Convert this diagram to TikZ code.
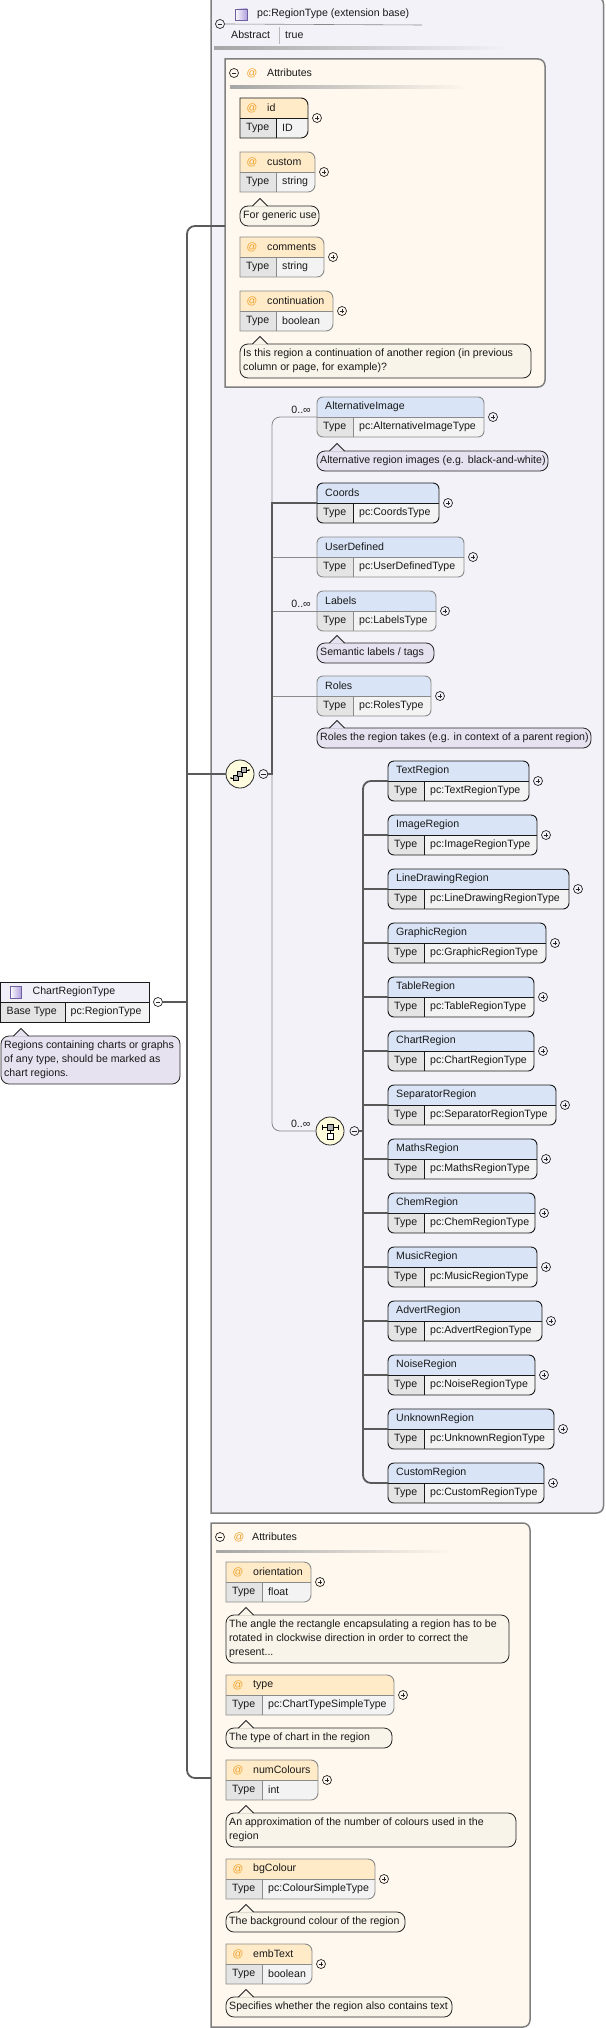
\documentclass[tikz,border=0pt]{standalone}
\usepackage{fontspec}
\setmainfont{Liberation Sans}
\usetikzlibrary{positioning,calc}

\definecolor{extbg}{RGB}{243,242,249}
\definecolor{attrbg}{RGB}{254,248,238}
\definecolor{elemhead}{RGB}{217,228,246}
\definecolor{attrhead}{RGB}{255,235,200}
\definecolor{typecell}{RGB}{228,228,228}
\definecolor{valcell}{RGB}{243,243,243}
\definecolor{elemnote}{RGB}{230,226,240}
\definecolor{attrnote}{RGB}{249,244,233}
\definecolor{crthead}{RGB}{241,240,248}
\definecolor{seqfill}{RGB}{255,252,222}
\definecolor{atorange}{RGB}{240,160,40}
\definecolor{iconpurple}{RGB}{176,160,220}
\definecolor{iconedge}{RGB}{110,95,160}
\definecolor{bordergray}{RGB}{138,138,138}
\definecolor{framegray}{RGB}{128,128,128}
\definecolor{busgray}{RGB}{90,90,90}
\definecolor{txt}{RGB}{25,25,25}

\tikzset{
  boxnode/.style={draw=none, inner sep=0pt, outer sep=0pt, minimum height=40pt, anchor=north west},
  lbl/.style={anchor=west, inner sep=0pt, text=txt},
  atsign/.style={inner sep=0pt, text=atorange},
  req/.style={draw=black!90, line width=0.9pt},
  opt/.style={draw=bordergray, line width=0.9pt},
  attrpath/.style={insert path={(#1.north west) -- ([xshift=-7pt]#1.north east)
      arc[start angle=90, end angle=0, radius=7pt] -- ([yshift=7pt]#1.south east)
      arc[start angle=0, end angle=-90, radius=7pt] -- (#1.south west) -- cycle}},
  notenode/.style={draw=black!85, line width=0.8pt, rounded corners=8pt, inner sep=0pt, outer sep=0pt, anchor=north west},
  noteline/.style={draw=black!85, line width=0.8pt},
  plusc/.style={circle, draw=black!85, line width=0.7pt, minimum size=9pt, inner sep=0pt,
      path picture={\draw[line width=0.7pt] ([xshift=-2.4pt]path picture bounding box.center) -- ([xshift=2.4pt]path picture bounding box.center)
      ([yshift=-2.4pt]path picture bounding box.center) -- ([yshift=2.4pt]path picture bounding box.center);}},
  minusc/.style={circle, draw=black!85, line width=0.7pt, minimum size=9pt, inner sep=0pt,
      path picture={\draw[line width=0.7pt] ([xshift=-2.4pt]path picture bounding box.center) -- ([xshift=2.4pt]path picture bounding box.center);}},
  busthick/.style={draw=busgray, line width=1.8pt},
  busthin/.style={draw=bordergray, line width=0.8pt},
  mult/.style={anchor=east, inner sep=0pt, text=txt},
  model/.style={circle, draw=black!85, line width=0.8pt, fill=seqfill, minimum size=28pt, inner sep=0pt},
  iconline/.style={draw=iconedge, line width=0.6pt},
}

% element box: name, x, y, width, title, type, border
\newcommand{\elembox}[7]{%
  \node[boxnode, minimum width=#4pt] (#1) at (#2,#3) {};
  \begin{scope}
    \clip[rounded corners=6pt] (#1.north west) rectangle (#1.south east);
    \fill[elemhead] (#1.north west) rectangle (#1.east);
    \fill[typecell] (#1.west) rectangle ([xshift=36pt]#1.south west);
    \fill[valcell] ([xshift=36pt]#1.west) rectangle (#1.south east);
  \end{scope}
  \draw[#7, rounded corners=6pt] (#1.north west) rectangle (#1.south east);
  \draw[#7] (#1.west) -- (#1.east) ([xshift=36pt]#1.west) -- ([xshift=36pt]#1.south west);
  \node[lbl] at ([xshift=8pt,yshift=-10pt]#1.north west) {#5};
  \node[lbl] at ([xshift=6pt,yshift=10pt]#1.south west) {Type};
  \node[lbl] at ([xshift=42pt,yshift=10pt]#1.south west) {#6};
  \node[plusc] (#1p) at ([xshift=9pt]#1.east) {};
}

% attribute box: name, x, y, width, title, type, border
\newcommand{\attrbox}[7]{%
  \node[boxnode, minimum width=#4pt] (#1) at (#2,#3) {};
  \begin{scope}
    \clip[attrpath=#1];
    \fill[attrhead] (#1.north west) rectangle (#1.east);
    \fill[typecell] (#1.west) rectangle ([xshift=36pt]#1.south west);
    \fill[valcell] ([xshift=36pt]#1.west) rectangle (#1.south east);
  \end{scope}
  \draw[#7, attrpath=#1];
  \draw[#7] (#1.west) -- (#1.east) ([xshift=36pt]#1.west) -- ([xshift=36pt]#1.south west);
  \node[atsign] at ([xshift=12pt,yshift=-10pt]#1.north west) {@};
  \node[lbl] at ([xshift=27pt,yshift=-10pt]#1.north west) {#5};
  \node[lbl] at ([xshift=6pt,yshift=10pt]#1.south west) {Type};
  \node[lbl] at ([xshift=42pt,yshift=10pt]#1.south west) {#6};
  \node[plusc] (#1p) at ([xshift=9pt]#1.east) {};
}

% note: name, x, y, width, lines, fill, text
\newcommand{\notebox}[7]{%
  \pgfmathsetmacro{\noteh}{6+14*#5}
  \node[notenode, fill=#6, minimum width=#4pt, minimum height=\noteh pt] (#1) at (#2,#3) {};
  \fill[#6] ([xshift=12.5pt,yshift=-0.7pt]#1.north west) -- ([xshift=20pt,yshift=7.5pt]#1.north west) -- ([xshift=27.5pt,yshift=-0.7pt]#1.north west) -- cycle;
  \draw[noteline] ([xshift=12.5pt]#1.north west) -- ([xshift=20pt,yshift=7.5pt]#1.north west) -- ([xshift=27.5pt]#1.north west);
  \node[lbl, align=left] at ([xshift=3pt]#1.west) {#7};
}

\begin{document}
\begin{tikzpicture}[x=1pt, y=-1pt, font=\fontsize{10.6}{14}\selectfont]
\useasboundingbox (0,0) rectangle (605,2028);

% Extension base frame
\node[boxnode, minimum width=392.5pt, minimum height=1516pt] (ext) at (211,-3) {};
\draw[framegray, line width=1.5pt, fill=extbg, attrpath=ext];
\node[minusc] (extm) at (220,24) {};
\draw[iconline, left color=white, right color=iconpurple] (235,9) rectangle (247,20);
\node[lbl] (extname) at (257,14) {pc:RegionType (extension base)};
\draw[bordergray, line width=0.6pt] (extm.east) -- (422,25);
\node[lbl] (abstr) at (231,35) {Abstract};
\draw[bordergray!60, line width=0.6pt] (279,27) -- (279,44);
\node[lbl] (abstrval) at (285,35) {true};
\shade[left color=gray!70, right color=extbg] (214,47) rectangle (510,49.5);

% Attributes of the base type
\node[boxnode, minimum width=320pt, minimum height=328pt] (attrA) at (225,59) {};
\draw[framegray, line width=1.5pt, fill=attrbg, attrpath=attrA];
\node[minusc] (attrAm) at (234,73) {};
\node[atsign] at (252,73) {@};
\node[lbl] at (267,73) {Attributes};
\shade[left color=gray!70, right color=attrbg] (230,86) rectangle (468,88.5);

\attrbox{aid}{240}{98}{68}{id}{ID}{req}
\attrbox{acustom}{240}{152}{75}{custom}{string}{opt}
\notebox{customnote}{240}{206}{79}{1}{attrnote}{For generic use}
\attrbox{acomments}{240}{237}{84}{comments}{string}{opt}
\attrbox{acont}{240}{291}{93}{continuation}{boolean}{opt}
\notebox{contnote}{240}{344}{291}{2}{attrnote}{Is this region a continuation of another region (in previous\\column or page, for example)?}

% Sequence
\elembox{altimg}{317}{397}{167}{AlternativeImage}{pc:AlternativeImageType}{opt}
\notebox{altimgnote}{317}{451}{231}{1}{elemnote}{Alternative region images (e.g. black-and-white)}
\elembox{coords}{317}{483}{122}{Coords}{pc:CoordsType}{req}
\elembox{userdef}{317}{537}{147}{UserDefined}{pc:UserDefinedType}{opt}
\elembox{labels}{317}{591}{119}{Labels}{pc:LabelsType}{opt}
\notebox{labelsnote}{317}{643}{117}{1}{elemnote}{Semantic labels / tags}
\elembox{roles}{317}{676}{114}{Roles}{pc:RolesType}{opt}
\notebox{rolesnote}{317}{728}{274}{1}{elemnote}{Roles the region takes (e.g. in context of a parent region)}

\node[mult] (altimgmult) at ([xshift=-6pt,yshift=7pt]altimg.west) {0..∞};
\node[mult] (labelsmult) at ([xshift=-6pt,yshift=7pt]labels.west) {0..∞};

\node[model] (seq) at (240,774) {};
\begin{scope}[shift={(seq.center)}]
  \draw[line width=0.6pt] (-9,4) -- (-5,4) (5,-4) -- (9,-4);
  \fill (-9,4) circle (0.9pt) (9,-4) circle (0.9pt);
  \foreach \d in {0,4,8}
    \draw[fill=gray!60, line width=0.5pt] (-7+\d,1-\d) rectangle (-2+\d,6-\d);
\end{scope}
\node[minusc] (seqm) at ([xshift=9pt]seq.east) {};

% Choice of regions
\node[model] (choice) at (330,1131) {};
\begin{scope}[shift={(choice.center)}]
  \draw[line width=0.6pt] (-8,-4) -- (8,-4) (-8,-6.5) -- (-8,-1.5) (8,-6.5) -- (8,-1.5) (0,-1) -- (0,2);
  \draw[fill=gray!60, line width=0.5pt] (-3,-7) rectangle (3,-1);
  \draw[fill=white, line width=0.5pt] (-3,2) rectangle (3,8);
\end{scope}
\node[minusc] (choicem) at ([xshift=10pt]choice.east) {};
\node[mult] (choicemult) at ([xshift=-5pt,yshift=7pt]choice.west) {0..∞};

\foreach \nm/\ttl/\bw [count=\i from 0] in {treg/TextRegion/141, imgreg/ImageRegion/149,
    linereg/LineDrawingRegion/181, graphreg/GraphicRegion/158, tablereg/TableRegion/146,
    chartreg/ChartRegion/146, sepreg/SeparatorRegion/168, mathreg/MathsRegion/149,
    chemreg/ChemRegion/147, musicreg/MusicRegion/149, advreg/AdvertRegion/154,
    noisereg/NoiseRegion/147, unkreg/UnknownRegion/166, custreg/CustomRegion/156}{
  \pgfmathsetmacro{\yy}{761+54*\i}
  \elembox{\nm}{388}{\yy}{\bw}{\ttl}{pc:\ttl Type}{req}
}

% Attributes of ChartRegionType
\node[boxnode, minimum width=319pt, minimum height=504pt] (attrB) at (211,1523) {};
\draw[framegray, line width=1.5pt, fill=attrbg, attrpath=attrB];
\node[minusc] (attrBm) at (220,1537) {};
\node[atsign] at (239,1537) {@};
\node[lbl] at (252,1537) {Attributes};
\shade[left color=gray!70, right color=attrbg] (216,1550) rectangle (452,1552.5);

\attrbox{aorient}{226}{1562}{85}{orientation}{float}{opt}
\notebox{orientnote}{226}{1615}{283}{3}{attrnote}{The angle the rectangle encapsulating a region has to be\\rotated in clockwise direction in order to correct the\\present...}
\attrbox{atype}{226}{1675}{168}{type}{pc:ChartTypeSimpleType}{opt}
\notebox{typenote}{226}{1728}{166}{1}{attrnote}{The type of chart in the region}
\attrbox{anumcol}{226}{1760}{92}{numColours}{int}{opt}
\notebox{numcolnote}{226}{1813}{290}{2}{attrnote}{An approximation of the number of colours used in the\\region}
\attrbox{abgcol}{226}{1859}{149}{bgColour}{pc:ColourSimpleType}{opt}
\notebox{bgcolnote}{226}{1912}{179}{1}{attrnote}{The background colour of the region}
\attrbox{aembtext}{226}{1944}{86}{embText}{boolean}{opt}
\notebox{embtextnote}{226}{1997}{226}{1}{attrnote}{Specifies whether the region also contains text}

% ChartRegionType
\node[boxnode, minimum width=148.5pt] (crt) at (0.5,982) {};
\fill[crthead] (crt.north west) rectangle (crt.east);
\fill[typecell] (crt.west) rectangle ([xshift=65pt]crt.south west);
\fill[valcell] ([xshift=65pt]crt.west) rectangle (crt.south east);
\draw[req] (crt.north west) rectangle (crt.south east);
\draw[req] (crt.west) -- (crt.east) ([xshift=65pt]crt.west) -- ([xshift=65pt]crt.south west);
\draw[iconline, left color=white, right color=iconpurple] (10,986) rectangle (21,998);
\node[lbl] at ([xshift=32pt,yshift=-10pt]crt.north west) {ChartRegionType};
\node[lbl] at ([xshift=6pt,yshift=10pt]crt.south west) {Base Type};
\node[lbl] at ([xshift=70pt,yshift=10pt]crt.south west) {pc:RegionType};
\node[minusc] (crtm) at ([xshift=9pt]crt.east) {};
\notebox{crtnote}{1}{1036}{179}{3}{elemnote}{Regions containing charts or graphs\\of any type, should be marked as\\chart regions.}

% Connectors
\coordinate (mainbus) at (187,1002);
\coordinate (attrAin) at (225,226);
\coordinate (attrBin) at (211,1778);
\coordinate (seqbus) at (272,774);
\coordinate (chbus) at (363,1131);

\draw[busthick, rounded corners=8pt] (attrAin) -| (mainbus) |- (attrBin);
\draw[busthick] (crtm.east) -- (mainbus);
\draw[busthick] (mainbus) |- (seq.west);

\draw[busthin, rounded corners=8pt] (altimg.west) -| (seqbus) |- (choice.west);
\foreach \nm in {userdef, labels, roles}
  \draw[busthin] (seqbus) |- (\nm.west);
\draw[busthick] (seqm.east) -- (seqbus) |- (coords.west);

\draw[busthick] (choicem.east) -- (chbus);
\draw[busthick, rounded corners=8pt] (treg.west) -| (chbus) |- (custreg.west);
\foreach \nm in {imgreg, linereg, graphreg, tablereg, chartreg, sepreg, mathreg, chemreg, musicreg, advreg, noisereg, unkreg}
  \draw[busthick] (chbus) |- (\nm.west);
\end{tikzpicture}
\end{document}
